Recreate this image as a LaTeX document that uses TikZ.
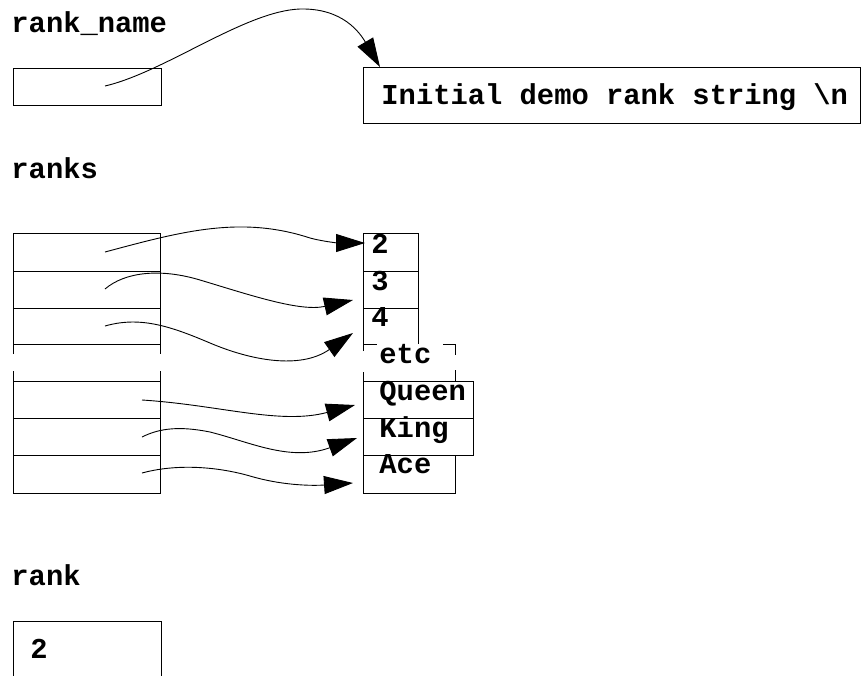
\documentclass[tikz,border=0pt]{standalone}
\usepackage{fontspec}
\newfontfamily\cour{Liberation Mono}
\usetikzlibrary{arrows.meta}
\begin{document}
\begin{tikzpicture}[x=1pt,y=-1pt, line width=0.9pt,
  cell/.style={draw, inner sep=0, anchor=north west},
  lbl/.style={font=\cour\bfseries\fontsize{28.8}{31}\selectfont, inner sep=0, anchor=base west},
  ptr/.style={-{Triangle[length=29pt,width=18pt]}, line width=0.9pt}]
\useasboundingbox (0,0) rectangle (861,675);

% rank_name
\node[lbl] (lrn) at (11,32) {rank\_name};
\node[cell, minimum width=148, minimum height=37] (rn) at (13,68) {};
\node[cell, minimum width=497, minimum height=56] (str) at (363,67) {};
\node[lbl] (tstr) at (381,104) {Initial demo rank string \textbackslash n};

% ranks
\node[lbl] (lranks) at (11,178) {ranks};
\node[cell, minimum width=147, minimum height=38] (l1) at (13,233) {};
\node[cell, minimum width=147, minimum height=37] (l2) at (13,271) {};
\node[cell, minimum width=147, minimum height=36] (l3) at (13,308) {};
\draw (13,354) -- (13,344) -- (160,344) -- (160,354);
\draw (13,371) -- (13,381);
\draw (160,371) -- (160,381);
\node[cell, minimum width=147, minimum height=37] (lq) at (13,381) {};
\node[cell, minimum width=147, minimum height=37] (lk) at (13,418) {};
\node[cell, minimum width=147, minimum height=38] (la) at (13,455) {};

\node[cell, minimum width=55, minimum height=38] (r2) at (363,233) {};
\node[cell, minimum width=55, minimum height=37] (r3) at (363,271) {};
\draw (363,344) -- (363,308);
\draw (418,308) -- (418,344);
% etc (broken outline)
\draw (363,351) -- (363,344) -- (377,344);
\draw (443,344) -- (455,344) -- (455,355);
\draw (363,372) -- (363,381) -- (455,381) -- (455,370);
\node[cell, minimum width=110, minimum height=37] (rq) at (363,381) {};
\node[cell, minimum width=110, minimum height=37] (rk) at (363,418) {};
\node[cell, minimum width=92, minimum height=38] (ra) at (363,455) {};

\node[lbl] (t2) at (371,253) {2};
\node[lbl] (t3) at (371,290) {3};
\node[lbl] (t4) at (371,326) {4};
\node[lbl] (tetc) at (379,363) {etc};
\node[lbl] (tq) at (379,400) {Queen};
\node[lbl] (tk) at (379,437) {King};
\node[lbl] (ta) at (379,473) {Ace};

% rank
\node[lbl] (lrank) at (11,585) {rank};
\draw (13,676) -- (13,621) -- (161,621) -- (161,676);
\node[lbl] (trank) at (30,658) {2};

% pointer start / end points
\coordinate (s0) at (105,86);   \coordinate (e0) at (380,67);
\coordinate (s1) at (105,252);  \coordinate (e1) at (365,243);
\coordinate (s2) at (105,289);  \coordinate (e2) at (353,300);
\coordinate (s3) at (105,326);  \coordinate (e3) at (353,333);
\coordinate (s4) at (142,400);  \coordinate (e4) at (355,405);
\coordinate (s5) at (142,437);  \coordinate (e5) at (357,438);
\coordinate (s6) at (142,473);  \coordinate (e6) at (353,483);

\draw[ptr] (s0) .. controls (165,72) and (245,11) .. (300,9)
               .. controls (343,8) and (360,33) .. (e0);
\draw[ptr] (s1) .. controls (180,232) and (240,215) .. (310,238)
               .. controls (325,242) and (340,243) .. (e1);
\draw[ptr] (s2) .. controls (125,272) and (160,268) .. (200,280)
               .. controls (250,295) and (300,312) .. (e2);
\draw[ptr] (s3) .. controls (140,316) and (170,326) .. (210,343)
               .. controls (250,360) and (300,370) .. (e3);
\draw[ptr] (s4) .. controls (220,405) and (280,425) .. (e4);
\draw[ptr] (s5) .. controls (160,428) and (180,426) .. (210,432)
               .. controls (250,442) and (290,462) .. (e5);
\draw[ptr] (s6) .. controls (175,464) and (215,466) .. (250,476)
               .. controls (280,485) and (310,486) .. (e6);
\end{tikzpicture}
\end{document}
